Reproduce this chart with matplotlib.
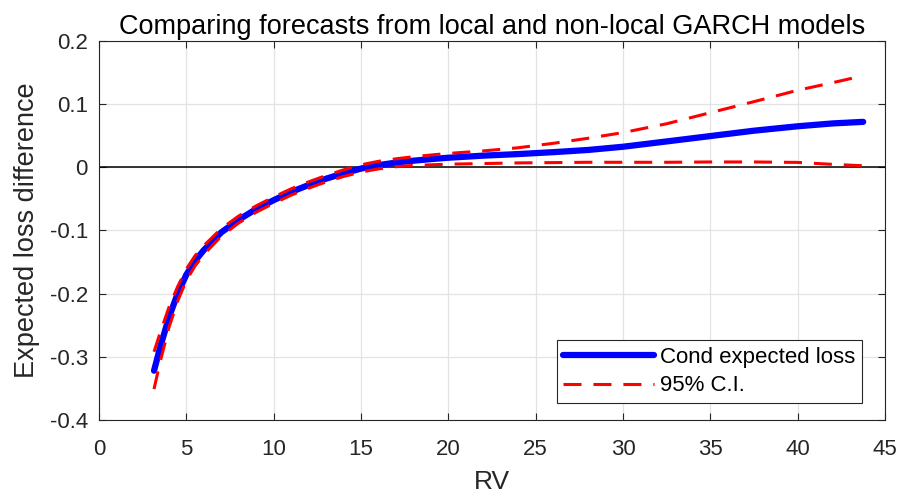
import matplotlib
matplotlib.use("Agg")
import matplotlib.pyplot as plt

plt.rcParams['font.family'] = ['Liberation Sans', 'DejaVu Sans']

rv = [3.15, 3.5, 4, 4.5, 5, 5.5, 6, 7, 8, 9, 10, 11, 12, 13, 14, 15, 16, 17, 18,
      19, 20, 22, 24, 26, 28, 30, 32.5, 35, 37.5, 40, 42, 43.75]
cond_loss = [-0.322, -0.285, -0.238, -0.200, -0.170, -0.148, -0.131, -0.103, -0.083,
             -0.066, -0.052, -0.039, -0.028, -0.018, -0.0095, -0.002, 0.0035, 0.0075,
             0.0105, 0.013, 0.0152, 0.0185, 0.021, 0.024, 0.0275, 0.0326, 0.041,
             0.0495, 0.058, 0.065, 0.0695, 0.072]
ci_upper = [-0.292, -0.262, -0.222, -0.189, -0.161, -0.140, -0.124, -0.097, -0.077,
            -0.061, -0.047, -0.034, -0.023, -0.013, -0.004, 0.004, 0.0095, 0.0135,
            0.0168, 0.0195, 0.022, 0.026, 0.031, 0.038, 0.046, 0.055, 0.069,
            0.0865, 0.104, 0.122, 0.134, 0.145]
ci_lower = [-0.351, -0.308, -0.254, -0.212, -0.179, -0.156, -0.138, -0.109, -0.088,
            -0.071, -0.057, -0.044, -0.033, -0.023, -0.0145, -0.0075, -0.0025, 0.001,
            0.003, 0.004, 0.005, 0.006, 0.007, 0.0075, 0.008, 0.008, 0.008,
            0.0085, 0.0085, 0.0078, 0.0047, 0.0025]

xticks = [0, 5, 10, 15, 20, 25, 30, 35, 40, 45]
yticks = [-0.4, -0.3, -0.2, -0.1, 0, 0.1, 0.2]
ytick_labels = ['-0.4', '-0.3', '-0.2', '-0.1', '0', '0.1', '0.2']

fig = plt.figure(figsize=(8.98, 4.99), dpi=100)
ax = fig.add_axes([99/898, 1 - 420/499, (885 - 99)/898, (420 - 41)/499])

dash = (0, (5.9, 3.9))
ax.axhline(0, color='black', lw=1.1, zorder=2)
ax.plot(rv, cond_loss, color='#0000ff', lw=4.5, solid_capstyle='round',
        label='Cond expected loss', zorder=3)
ax.plot(rv, ci_upper, color='#ff0000', lw=2.2, linestyle=dash, dash_capstyle='butt',
        label='95% C.I.', zorder=4)
ax.plot(rv, ci_lower, color='#ff0000', lw=2.2, linestyle=dash, dash_capstyle='butt',
        zorder=4)

ax.set_xlim(0, 45)
ax.set_ylim(-0.4, 0.2)
ax.set_xticks(xticks)
ax.set_yticks(yticks)
ax.set_yticklabels(ytick_labels)
ax.grid(True, color='#e3e3e3', lw=0.9)
ax.set_axisbelow(True)
ax.tick_params(direction='in', length=5, width=0.8, colors='#262626',
               labelsize=16, top=True, right=True)
ax.tick_params(axis='x', pad=14)
ax.tick_params(axis='y', pad=8)
for s in ax.spines.values():
    s.set_color('#262626')
    s.set_linewidth(0.8)

ax.set_xlabel('RV', fontsize=19, color='#262626', labelpad=7)
ax.set_ylabel('Expected loss difference', fontsize=19.5, color='#262626', labelpad=7)
ax.set_title('Comparing forecasts from local and non-local GARCH models',
             fontsize=19.5, color='black', pad=5)

leg = ax.legend(loc='lower right', bbox_to_anchor=(0.9707, 0.0449), borderaxespad=0,
                fontsize=16, fancybox=False, edgecolor='#262626', framealpha=1,
                handlelength=4.1, handletextpad=0.25, borderpad=0.3,
                labelspacing=0.33)
leg.get_frame().set_linewidth(0.8)

fig.savefig('out.png', dpi=100)
